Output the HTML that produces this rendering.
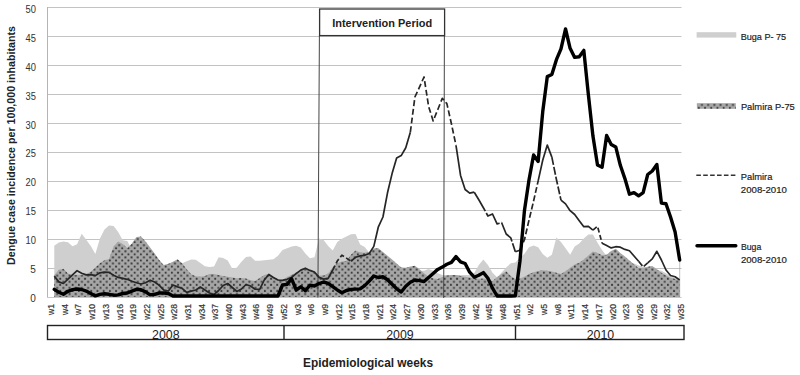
<!DOCTYPE html>
<html><head><meta charset="utf-8"><style>
html,body{margin:0;padding:0;background:#fff;width:800px;height:375px;overflow:hidden;font-family:"Liberation Sans",sans-serif;}
svg{display:block;}
</style></head><body>
<svg width="800" height="375" viewBox="0 0 800 375">
<defs><pattern id="dots" patternUnits="userSpaceOnUse" width="6.2" height="6.1" x="0" y="0"><rect width="6.2" height="6.1" fill="#a6a6a6"/><rect x="0.4" y="0.25" width="1.9" height="1.9" fill="#3c3c3c"/><rect x="3.5" y="3.3" width="1.9" height="1.9" fill="#3c3c3c"/></pattern></defs>
<rect width="800" height="375" fill="#fff"/>
<line x1="47.5" y1="268.50" x2="681.5" y2="268.50" stroke="#c3c3c3" stroke-width="1"/>
<line x1="47.5" y1="239.50" x2="681.5" y2="239.50" stroke="#c3c3c3" stroke-width="1"/>
<line x1="47.5" y1="210.50" x2="681.5" y2="210.50" stroke="#c3c3c3" stroke-width="1"/>
<line x1="47.5" y1="181.50" x2="681.5" y2="181.50" stroke="#c3c3c3" stroke-width="1"/>
<line x1="47.5" y1="152.50" x2="681.5" y2="152.50" stroke="#c3c3c3" stroke-width="1"/>
<line x1="47.5" y1="123.50" x2="681.5" y2="123.50" stroke="#c3c3c3" stroke-width="1"/>
<line x1="47.5" y1="94.50" x2="681.5" y2="94.50" stroke="#c3c3c3" stroke-width="1"/>
<line x1="47.5" y1="65.50" x2="681.5" y2="65.50" stroke="#c3c3c3" stroke-width="1"/>
<line x1="47.5" y1="36.50" x2="681.5" y2="36.50" stroke="#c3c3c3" stroke-width="1"/>
<line x1="47.5" y1="7.50" x2="681.5" y2="7.50" stroke="#c3c3c3" stroke-width="1"/>
<polygon points="54.27,297.20 54.27,245.80 58.83,242.60 63.40,241.50 67.96,242.20 72.53,246.20 77.09,244.30 81.66,233.80 86.22,239.80 90.78,245.90 95.35,254.00 99.92,238.40 104.48,229.60 109.05,225.50 113.61,226.00 118.18,232.00 122.74,240.30 127.31,240.90 131.87,249.70 136.44,256.90 141.00,262.10 145.56,262.80 150.13,263.50 154.69,264.20 159.26,264.90 163.83,264.80 168.39,264.60 172.96,264.40 177.52,264.10 182.09,263.30 186.65,261.20 191.22,259.40 195.78,259.80 200.35,262.90 204.91,266.20 209.48,267.00 214.04,266.40 218.61,257.20 223.17,257.90 227.74,260.50 232.30,268.80 236.87,267.50 241.43,261.80 246.00,256.90 250.56,256.60 255.12,260.80 259.69,260.80 264.25,260.30 268.82,259.80 273.39,259.30 277.95,255.80 282.52,250.10 287.08,248.20 291.65,246.60 296.21,245.70 300.78,247.60 305.34,253.50 309.91,258.30 314.47,257.20 319.04,238.60 323.60,240.10 328.17,245.90 332.73,250.50 337.30,241.90 341.86,238.80 346.43,236.50 350.99,234.20 355.56,234.00 360.12,244.60 364.69,246.90 369.25,252.80 373.81,254.50 378.38,255.60 382.94,257.80 387.51,260.50 392.08,263.20 396.64,266.00 401.21,268.20 405.77,268.80 410.34,269.40 414.90,270.10 419.47,270.70 424.03,270.80 428.60,269.10 433.16,270.70 437.73,273.20 442.29,275.00 446.86,275.00 451.42,275.00 455.99,275.00 460.55,275.00 465.12,275.00 469.68,275.00 474.25,272.90 478.81,265.10 483.38,259.60 487.94,264.90 492.51,272.80 497.07,277.20 501.64,272.50 506.20,267.60 510.77,263.20 515.33,262.40 519.90,258.10 524.46,253.70 529.03,247.30 533.59,245.50 538.16,247.20 542.72,254.00 547.29,257.70 551.85,254.80 556.42,237.50 560.98,241.90 565.55,248.30 570.11,254.80 574.68,246.60 579.24,243.50 583.81,238.50 588.37,234.60 592.94,234.50 597.50,242.80 602.07,250.10 606.63,256.00 611.20,255.40 615.76,256.70 620.33,258.10 624.89,260.00 629.46,261.80 634.02,263.60 638.59,265.40 643.15,266.70 647.72,267.80 652.28,268.90 656.85,269.90 661.41,270.80 665.98,273.20 670.54,276.10 675.11,277.90 679.67,279.70 679.67,297.20" fill="#cfcfcf"/>
<polygon points="54.27,297.20 54.27,275.20 58.83,269.80 63.40,268.80 67.96,273.40 72.53,274.90 77.09,274.80 81.66,274.80 86.22,274.00 90.78,271.70 95.35,267.60 99.92,263.30 104.48,260.30 109.05,259.10 113.61,246.60 118.18,241.60 122.74,244.00 127.31,248.10 131.87,243.60 136.44,237.10 141.00,236.40 145.56,241.50 150.13,247.50 154.69,253.60 159.26,260.10 163.83,265.20 168.39,263.80 172.96,261.80 177.52,259.30 182.09,263.30 186.65,269.30 191.22,274.20 195.78,276.30 200.35,276.70 204.91,275.90 209.48,273.90 214.04,273.90 218.61,275.10 223.17,276.00 227.74,276.80 232.30,277.40 236.87,278.20 241.43,277.90 246.00,278.60 250.56,280.20 255.12,281.00 259.69,277.90 264.25,274.90 268.82,273.90 273.39,277.00 277.95,279.20 282.52,280.00 287.08,277.00 291.65,274.70 296.21,272.40 300.78,270.20 305.34,268.20 309.91,269.80 314.47,272.60 319.04,275.40 323.60,275.50 328.17,273.40 332.73,267.50 337.30,263.10 341.86,261.60 346.43,261.00 350.99,254.70 355.56,250.50 360.12,252.40 364.69,252.80 369.25,251.90 373.81,248.60 378.38,248.20 382.94,252.00 387.51,255.80 392.08,259.60 396.64,263.40 401.21,267.60 405.77,267.80 410.34,266.60 414.90,265.80 419.47,269.30 424.03,273.30 428.60,276.40 433.16,278.50 437.73,279.00 442.29,277.00 446.86,275.40 451.42,275.10 455.99,275.10 460.55,276.00 465.12,276.80 469.68,277.50 474.25,278.30 478.81,278.70 483.38,278.40 487.94,279.00 492.51,281.00 497.07,277.30 501.64,273.90 506.20,271.30 510.77,276.10 515.33,279.10 519.90,278.60 524.46,276.70 529.03,274.10 533.59,272.20 538.16,270.90 542.72,270.20 547.29,270.80 551.85,271.50 556.42,272.70 560.98,274.00 565.55,271.20 570.11,267.80 574.68,264.50 579.24,262.80 583.81,259.60 588.37,255.60 592.94,251.60 597.50,253.00 602.07,255.20 606.63,254.70 611.20,251.00 615.76,248.70 620.33,252.90 624.89,256.50 629.46,260.50 634.02,264.50 638.59,267.90 643.15,268.10 647.72,266.70 652.28,266.10 656.85,269.30 661.41,272.80 665.98,275.60 670.54,277.70 675.11,278.90 679.67,280.50 679.67,297.20" fill="url(#dots)"/>
<line x1="679.7" y1="261" x2="679.7" y2="297" stroke="#9a9a9a" stroke-width="0.6"/>
<line x1="47.5" y1="7" x2="47.5" y2="297.5" stroke="#b4b4b4" stroke-width="1"/>
<line x1="47" y1="297.5" x2="681.5" y2="297.5" stroke="#c8c8c8" stroke-width="1"/>
<line x1="319.4" y1="35.5" x2="317.9" y2="297.5" stroke="#444" stroke-width="1"/>
<line x1="444.4" y1="35.5" x2="443.7" y2="298" stroke="#444" stroke-width="1"/>
<rect x="319.6" y="9" width="125" height="26.6" fill="#fff" stroke="#333" stroke-width="1.3"/>
<text x="382.2" y="27" text-anchor="middle" font-family="Liberation Sans" font-weight="bold" font-size="11" fill="#222" textLength="100" lengthAdjust="spacingAndGlyphs">Intervention Period</text>
<polyline points="54.27,276.10 58.83,281.90 63.40,283.50 67.96,279.10 72.53,274.90 77.09,270.70 81.66,273.20 86.22,274.90 90.78,274.60 95.35,275.60 99.92,272.80 104.48,272.20 109.05,272.40 113.61,275.30 118.18,277.40 122.74,278.40 127.31,279.30 131.87,281.30 136.44,282.70 141.00,284.00 145.56,282.80 150.13,280.20 154.69,282.00 159.26,285.40 163.83,290.20 168.39,291.00 172.96,285.00 177.52,286.90 182.09,288.30 186.65,292.40 191.22,291.10 195.78,290.00 200.35,287.00 204.91,290.00 209.48,293.00 214.04,294.50 218.61,290.50 223.17,285.50 227.74,283.50 232.30,287.50 236.87,291.50 241.43,289.00 246.00,284.50 250.56,286.00 255.12,289.20 259.69,289.30 264.25,280.00 268.82,274.50 273.39,277.50 277.95,280.00 282.52,280.40 287.08,279.30 291.65,277.40 296.21,273.60 300.78,270.10 305.34,268.20 309.91,270.40 314.47,272.00 319.04,277.40 323.60,279.10 328.17,278.40 332.73,270.00" fill="none" stroke="#262626" stroke-width="1.7" stroke-linejoin="round"/>
<polyline points="332.73,270.00 337.30,261.00 341.86,255.20 346.43,258.10 350.99,261.20" fill="none" stroke="#262626" stroke-width="1.7" stroke-linejoin="round" stroke-dasharray="5 2.5"/>
<polyline points="350.99,261.20 355.56,257.30 360.12,255.90 364.69,255.30 369.25,253.50 373.81,246.40 378.38,226.80 382.94,217.00 387.51,192.80 392.08,173.60 396.64,158.10 401.21,155.60 405.77,147.80 410.34,132.20" fill="none" stroke="#262626" stroke-width="1.7" stroke-linejoin="round"/>
<polyline points="410.34,132.20 414.90,97.00 419.47,87.10 424.03,77.00 428.60,106.40 433.16,120.90 437.73,109.70 442.29,98.30 446.86,103.60 451.42,123.80 455.99,145.30" fill="none" stroke="#262626" stroke-width="1.7" stroke-linejoin="round" stroke-dasharray="6 2.8"/>
<polyline points="455.99,145.30 460.55,175.40 465.12,189.50 469.68,193.20 474.25,192.20" fill="none" stroke="#262626" stroke-width="1.7" stroke-linejoin="round"/>
<polyline points="474.25,192.20 478.81,199.80 483.38,207.70 487.94,216.00 492.51,214.00 497.07,223.90 501.64,222.70 506.20,234.00 510.77,237.80 515.33,251.80" fill="none" stroke="#262626" stroke-width="1.7" stroke-linejoin="round" stroke-dasharray="22 2"/>
<polyline points="515.33,251.80 519.90,250.20" fill="none" stroke="#262626" stroke-width="1.7" stroke-linejoin="round"/>
<polyline points="519.90,250.20 524.46,239.70 529.03,220.00 533.59,201.00 538.16,180.90" fill="none" stroke="#262626" stroke-width="1.7" stroke-linejoin="round" stroke-dasharray="6 2.5"/>
<polyline points="538.16,180.90 542.72,160.30 547.29,145.10 551.85,157.10" fill="none" stroke="#262626" stroke-width="1.7" stroke-linejoin="round"/>
<polyline points="551.85,157.10 556.42,179.50 560.98,200.10" fill="none" stroke="#262626" stroke-width="1.7" stroke-linejoin="round" stroke-dasharray="8 2"/>
<polyline points="560.98,200.10 565.55,203.90 570.11,210.70 574.68,214.50 579.24,220.70 583.81,226.70 588.37,226.30 592.94,230.20" fill="none" stroke="#262626" stroke-width="1.7" stroke-linejoin="round"/>
<polyline points="592.94,230.20 597.50,226.30 602.07,243.20" fill="none" stroke="#262626" stroke-width="1.7" stroke-linejoin="round" stroke-dasharray="5 2.5"/>
<polyline points="602.07,243.20 606.63,245.50 611.20,247.90 615.76,246.70 620.33,247.20 624.89,249.40 629.46,250.70 634.02,256.00 638.59,261.20" fill="none" stroke="#262626" stroke-width="1.7" stroke-linejoin="round"/>
<polyline points="638.59,261.20 643.15,266.80 647.72,262.80" fill="none" stroke="#262626" stroke-width="1.7" stroke-linejoin="round" stroke-dasharray="6 2"/>
<polyline points="647.72,262.80 652.28,258.90 656.85,251.30 661.41,260.00 665.98,270.00 670.54,275.50 675.11,276.80 679.67,280.00" fill="none" stroke="#262626" stroke-width="1.7" stroke-linejoin="round"/>
<polyline points="54.27,289.40 58.83,292.30 63.40,294.20 67.96,291.30 72.53,289.60 77.09,289.00 81.66,289.50 86.22,291.10 90.78,293.40 95.35,295.90 99.92,294.40 104.48,293.80 109.05,294.30 113.61,295.20 118.18,294.90 122.74,293.50 127.31,293.00 131.87,291.20 136.44,289.30 141.00,289.70 145.56,291.90 150.13,294.90 154.69,294.30 159.26,293.00 163.83,293.00 168.39,293.50 172.96,296.00 177.52,296.00 182.09,296.00 186.65,296.00 191.22,296.00 195.78,296.00 200.35,296.00 204.91,296.00 209.48,296.00 214.04,296.00 218.61,296.00 223.17,296.00 227.74,296.00 232.30,296.00 236.87,296.00 241.43,296.00 246.00,296.00 250.56,296.00 255.12,296.00 259.69,296.00 264.25,296.00 268.82,296.00 273.39,296.00 277.95,296.00 282.52,285.00 287.08,284.40 291.65,278.80 296.21,290.00 300.78,286.80 305.34,290.80 309.91,285.20 314.47,286.00 319.04,283.60 323.60,282.00 328.17,283.30 332.73,286.60 337.30,290.00 341.86,292.80 346.43,290.50 350.99,289.40 355.56,289.10 360.12,288.90 364.69,285.60 369.25,281.10 373.81,276.00 378.38,277.50 382.94,276.80 387.51,279.70 392.08,284.30 396.64,288.80 401.21,292.00 405.77,286.30 410.34,282.30 414.90,280.00 419.47,280.60 424.03,281.50 428.60,277.50 433.16,273.40 437.73,269.40 442.29,267.10 446.86,264.30 451.42,262.40 455.99,256.60 460.55,261.80 465.12,263.50 469.68,272.20 474.25,277.20 478.81,275.30 483.38,272.60 487.94,278.20 492.51,288.10 497.07,296.00 501.64,296.00 506.20,296.00 510.77,296.00 515.33,295.80 519.90,261.50 524.46,210.40 529.03,179.80 533.59,155.00 538.16,161.40 542.72,111.80 547.29,76.60 551.85,74.50 556.42,59.70 560.98,48.80 565.55,29.00 570.11,48.30 574.68,57.40 579.24,56.70 583.81,50.40 588.37,94.70 592.94,136.10 597.50,165.00 602.07,167.30 606.63,135.40 611.20,144.40 615.76,146.90 620.33,165.30 624.89,178.60 629.46,194.20 634.02,192.70 638.59,195.80 643.15,192.70 647.72,174.50 652.28,171.00 656.85,164.50 661.41,203.10 665.98,203.70 670.54,217.00 675.11,232.10 679.67,260.00" fill="none" stroke="#000" stroke-width="3.4" stroke-linejoin="round" stroke-linecap="round"/>
<text x="35.9" y="301.9" text-anchor="end" font-family="Liberation Sans" font-size="10" fill="#333">0</text>
<text x="35.9" y="272.9" text-anchor="end" font-family="Liberation Sans" font-size="10" fill="#333">5</text>
<text x="35.9" y="244.0" text-anchor="end" font-family="Liberation Sans" font-size="10" fill="#333" textLength="10.4" lengthAdjust="spacingAndGlyphs">10</text>
<text x="35.9" y="215.1" text-anchor="end" font-family="Liberation Sans" font-size="10" fill="#333" textLength="10.4" lengthAdjust="spacingAndGlyphs">15</text>
<text x="35.9" y="186.2" text-anchor="end" font-family="Liberation Sans" font-size="10" fill="#333" textLength="10.4" lengthAdjust="spacingAndGlyphs">20</text>
<text x="35.9" y="157.4" text-anchor="end" font-family="Liberation Sans" font-size="10" fill="#333" textLength="10.4" lengthAdjust="spacingAndGlyphs">25</text>
<text x="35.9" y="128.5" text-anchor="end" font-family="Liberation Sans" font-size="10" fill="#333" textLength="10.4" lengthAdjust="spacingAndGlyphs">30</text>
<text x="35.9" y="99.6" text-anchor="end" font-family="Liberation Sans" font-size="10" fill="#333" textLength="10.4" lengthAdjust="spacingAndGlyphs">35</text>
<text x="35.9" y="70.7" text-anchor="end" font-family="Liberation Sans" font-size="10" fill="#333" textLength="10.4" lengthAdjust="spacingAndGlyphs">40</text>
<text x="35.9" y="41.8" text-anchor="end" font-family="Liberation Sans" font-size="10" fill="#333" textLength="10.4" lengthAdjust="spacingAndGlyphs">45</text>
<text x="35.9" y="13.0" text-anchor="end" font-family="Liberation Sans" font-size="10" fill="#333" textLength="10.4" lengthAdjust="spacingAndGlyphs">50</text>
<text transform="translate(15.1,145.5) rotate(-90)" text-anchor="middle" font-family="Liberation Sans" font-weight="bold" font-size="11" fill="#222" textLength="239" lengthAdjust="spacingAndGlyphs">Dengue case incidence per 100,000 inhabitants</text>
<text transform="translate(54.05,304) rotate(-90)" text-anchor="end" font-family="Liberation Sans" font-size="8.6" fill="#333" stroke="#333" stroke-width="0.2">w1</text>
<text transform="translate(67.75,304) rotate(-90)" text-anchor="end" font-family="Liberation Sans" font-size="8.6" fill="#333" stroke="#333" stroke-width="0.2">w4</text>
<text transform="translate(81.44,304) rotate(-90)" text-anchor="end" font-family="Liberation Sans" font-size="8.6" fill="#333" stroke="#333" stroke-width="0.2">w7</text>
<text transform="translate(95.13,304) rotate(-90)" text-anchor="end" font-family="Liberation Sans" font-size="8.6" fill="#333" stroke="#333" stroke-width="0.2">w10</text>
<text transform="translate(108.83,304) rotate(-90)" text-anchor="end" font-family="Liberation Sans" font-size="8.6" fill="#333" stroke="#333" stroke-width="0.2">w13</text>
<text transform="translate(122.53,304) rotate(-90)" text-anchor="end" font-family="Liberation Sans" font-size="8.6" fill="#333" stroke="#333" stroke-width="0.2">w16</text>
<text transform="translate(136.22,304) rotate(-90)" text-anchor="end" font-family="Liberation Sans" font-size="8.6" fill="#333" stroke="#333" stroke-width="0.2">w19</text>
<text transform="translate(149.91,304) rotate(-90)" text-anchor="end" font-family="Liberation Sans" font-size="8.6" fill="#333" stroke="#333" stroke-width="0.2">w22</text>
<text transform="translate(163.61,304) rotate(-90)" text-anchor="end" font-family="Liberation Sans" font-size="8.6" fill="#333" stroke="#333" stroke-width="0.2">w25</text>
<text transform="translate(177.31,304) rotate(-90)" text-anchor="end" font-family="Liberation Sans" font-size="8.6" fill="#333" stroke="#333" stroke-width="0.2">w28</text>
<text transform="translate(191.00,304) rotate(-90)" text-anchor="end" font-family="Liberation Sans" font-size="8.6" fill="#333" stroke="#333" stroke-width="0.2">w31</text>
<text transform="translate(204.70,304) rotate(-90)" text-anchor="end" font-family="Liberation Sans" font-size="8.6" fill="#333" stroke="#333" stroke-width="0.2">w34</text>
<text transform="translate(218.39,304) rotate(-90)" text-anchor="end" font-family="Liberation Sans" font-size="8.6" fill="#333" stroke="#333" stroke-width="0.2">w37</text>
<text transform="translate(232.09,304) rotate(-90)" text-anchor="end" font-family="Liberation Sans" font-size="8.6" fill="#333" stroke="#333" stroke-width="0.2">w40</text>
<text transform="translate(245.78,304) rotate(-90)" text-anchor="end" font-family="Liberation Sans" font-size="8.6" fill="#333" stroke="#333" stroke-width="0.2">w43</text>
<text transform="translate(259.48,304) rotate(-90)" text-anchor="end" font-family="Liberation Sans" font-size="8.6" fill="#333" stroke="#333" stroke-width="0.2">w46</text>
<text transform="translate(273.17,304) rotate(-90)" text-anchor="end" font-family="Liberation Sans" font-size="8.6" fill="#333" stroke="#333" stroke-width="0.2">w49</text>
<text transform="translate(286.87,304) rotate(-90)" text-anchor="end" font-family="Liberation Sans" font-size="8.6" fill="#333" stroke="#333" stroke-width="0.2">w52</text>
<text transform="translate(300.56,304) rotate(-90)" text-anchor="end" font-family="Liberation Sans" font-size="8.6" fill="#333" stroke="#333" stroke-width="0.2">w3</text>
<text transform="translate(314.26,304) rotate(-90)" text-anchor="end" font-family="Liberation Sans" font-size="8.6" fill="#333" stroke="#333" stroke-width="0.2">w6</text>
<text transform="translate(327.95,304) rotate(-90)" text-anchor="end" font-family="Liberation Sans" font-size="8.6" fill="#333" stroke="#333" stroke-width="0.2">w9</text>
<text transform="translate(341.65,304) rotate(-90)" text-anchor="end" font-family="Liberation Sans" font-size="8.6" fill="#333" stroke="#333" stroke-width="0.2">w12</text>
<text transform="translate(355.34,304) rotate(-90)" text-anchor="end" font-family="Liberation Sans" font-size="8.6" fill="#333" stroke="#333" stroke-width="0.2">w15</text>
<text transform="translate(369.04,304) rotate(-90)" text-anchor="end" font-family="Liberation Sans" font-size="8.6" fill="#333" stroke="#333" stroke-width="0.2">w18</text>
<text transform="translate(382.73,304) rotate(-90)" text-anchor="end" font-family="Liberation Sans" font-size="8.6" fill="#333" stroke="#333" stroke-width="0.2">w21</text>
<text transform="translate(396.43,304) rotate(-90)" text-anchor="end" font-family="Liberation Sans" font-size="8.6" fill="#333" stroke="#333" stroke-width="0.2">w24</text>
<text transform="translate(410.12,304) rotate(-90)" text-anchor="end" font-family="Liberation Sans" font-size="8.6" fill="#333" stroke="#333" stroke-width="0.2">w27</text>
<text transform="translate(423.82,304) rotate(-90)" text-anchor="end" font-family="Liberation Sans" font-size="8.6" fill="#333" stroke="#333" stroke-width="0.2">w30</text>
<text transform="translate(437.51,304) rotate(-90)" text-anchor="end" font-family="Liberation Sans" font-size="8.6" fill="#333" stroke="#333" stroke-width="0.2">w33</text>
<text transform="translate(451.21,304) rotate(-90)" text-anchor="end" font-family="Liberation Sans" font-size="8.6" fill="#333" stroke="#333" stroke-width="0.2">w36</text>
<text transform="translate(464.90,304) rotate(-90)" text-anchor="end" font-family="Liberation Sans" font-size="8.6" fill="#333" stroke="#333" stroke-width="0.2">w39</text>
<text transform="translate(478.60,304) rotate(-90)" text-anchor="end" font-family="Liberation Sans" font-size="8.6" fill="#333" stroke="#333" stroke-width="0.2">w42</text>
<text transform="translate(492.29,304) rotate(-90)" text-anchor="end" font-family="Liberation Sans" font-size="8.6" fill="#333" stroke="#333" stroke-width="0.2">w45</text>
<text transform="translate(505.99,304) rotate(-90)" text-anchor="end" font-family="Liberation Sans" font-size="8.6" fill="#333" stroke="#333" stroke-width="0.2">w48</text>
<text transform="translate(519.68,304) rotate(-90)" text-anchor="end" font-family="Liberation Sans" font-size="8.6" fill="#333" stroke="#333" stroke-width="0.2">w51</text>
<text transform="translate(533.38,304) rotate(-90)" text-anchor="end" font-family="Liberation Sans" font-size="8.6" fill="#333" stroke="#333" stroke-width="0.2">w2</text>
<text transform="translate(547.07,304) rotate(-90)" text-anchor="end" font-family="Liberation Sans" font-size="8.6" fill="#333" stroke="#333" stroke-width="0.2">w5</text>
<text transform="translate(560.77,304) rotate(-90)" text-anchor="end" font-family="Liberation Sans" font-size="8.6" fill="#333" stroke="#333" stroke-width="0.2">w8</text>
<text transform="translate(574.46,304) rotate(-90)" text-anchor="end" font-family="Liberation Sans" font-size="8.6" fill="#333" stroke="#333" stroke-width="0.2">w11</text>
<text transform="translate(588.16,304) rotate(-90)" text-anchor="end" font-family="Liberation Sans" font-size="8.6" fill="#333" stroke="#333" stroke-width="0.2">w14</text>
<text transform="translate(601.85,304) rotate(-90)" text-anchor="end" font-family="Liberation Sans" font-size="8.6" fill="#333" stroke="#333" stroke-width="0.2">w17</text>
<text transform="translate(615.55,304) rotate(-90)" text-anchor="end" font-family="Liberation Sans" font-size="8.6" fill="#333" stroke="#333" stroke-width="0.2">w20</text>
<text transform="translate(629.24,304) rotate(-90)" text-anchor="end" font-family="Liberation Sans" font-size="8.6" fill="#333" stroke="#333" stroke-width="0.2">w23</text>
<text transform="translate(642.94,304) rotate(-90)" text-anchor="end" font-family="Liberation Sans" font-size="8.6" fill="#333" stroke="#333" stroke-width="0.2">w26</text>
<text transform="translate(656.63,304) rotate(-90)" text-anchor="end" font-family="Liberation Sans" font-size="8.6" fill="#333" stroke="#333" stroke-width="0.2">w29</text>
<text transform="translate(670.33,304) rotate(-90)" text-anchor="end" font-family="Liberation Sans" font-size="8.6" fill="#333" stroke="#333" stroke-width="0.2">w32</text>
<text transform="translate(684.02,304) rotate(-90)" text-anchor="end" font-family="Liberation Sans" font-size="8.6" fill="#333" stroke="#333" stroke-width="0.2">w35</text>
<rect x="47.5" y="325.5" width="636.5" height="14" fill="#fff" stroke="#222" stroke-width="1.4"/>
<line x1="284" y1="325.5" x2="284" y2="339.5" stroke="#222" stroke-width="1.4"/>
<line x1="515.5" y1="325.5" x2="515.5" y2="339.5" stroke="#222" stroke-width="1.4"/>
<text x="165.8" y="338.6" text-anchor="middle" font-family="Liberation Sans" font-size="13" fill="#222" textLength="27.5" lengthAdjust="spacingAndGlyphs">2008</text>
<text x="399.9" y="338.6" text-anchor="middle" font-family="Liberation Sans" font-size="13" fill="#222" textLength="27.5" lengthAdjust="spacingAndGlyphs">2009</text>
<text x="600.4" y="338.6" text-anchor="middle" font-family="Liberation Sans" font-size="13" fill="#222" textLength="27.5" lengthAdjust="spacingAndGlyphs">2010</text>
<text x="368" y="367.3" text-anchor="middle" font-family="Liberation Sans" font-weight="bold" font-size="13.5" fill="#222" textLength="130" lengthAdjust="spacingAndGlyphs">Epidemiological weeks</text>
<rect x="696.6" y="32.2" width="39.7" height="5.4" fill="#cfcfcf"/>
<rect x="696.9" y="103.2" width="38.9" height="5.6" fill="url(#dots)"/>
<line x1="696.3" y1="175.3" x2="736.4" y2="175.3" stroke="#333" stroke-width="1.6" stroke-dasharray="4.6 2.3"/>
<line x1="697" y1="245.7" x2="735.8" y2="245.7" stroke="#000" stroke-width="3.4" stroke-linecap="round"/>
<text x="740.7" y="39.9" font-family="Liberation Sans" font-size="9.9" fill="#222" stroke="#222" stroke-width="0.2" textLength="45.5" lengthAdjust="spacingAndGlyphs">Buga P- 75</text>
<text x="740.9" y="110" font-family="Liberation Sans" font-size="9.9" fill="#222" stroke="#222" stroke-width="0.2" textLength="53.9" lengthAdjust="spacingAndGlyphs">Palmira P-75</text>
<text x="740.8" y="180.1" font-family="Liberation Sans" font-size="9.9" fill="#222" stroke="#222" stroke-width="0.2" textLength="31.6" lengthAdjust="spacingAndGlyphs">Palmira</text>
<text x="740.8" y="192.5" font-family="Liberation Sans" font-size="9.9" fill="#222" stroke="#222" stroke-width="0.2" textLength="46.1" lengthAdjust="spacingAndGlyphs">2008-2010</text>
<text x="740.9" y="250.2" font-family="Liberation Sans" font-size="9.9" fill="#222" stroke="#222" stroke-width="0.2" textLength="20.4" lengthAdjust="spacingAndGlyphs">Buga</text>
<text x="740.9" y="262.6" font-family="Liberation Sans" font-size="9.9" fill="#222" stroke="#222" stroke-width="0.2" textLength="46.1" lengthAdjust="spacingAndGlyphs">2008-2010</text>
</svg>
</body></html>
